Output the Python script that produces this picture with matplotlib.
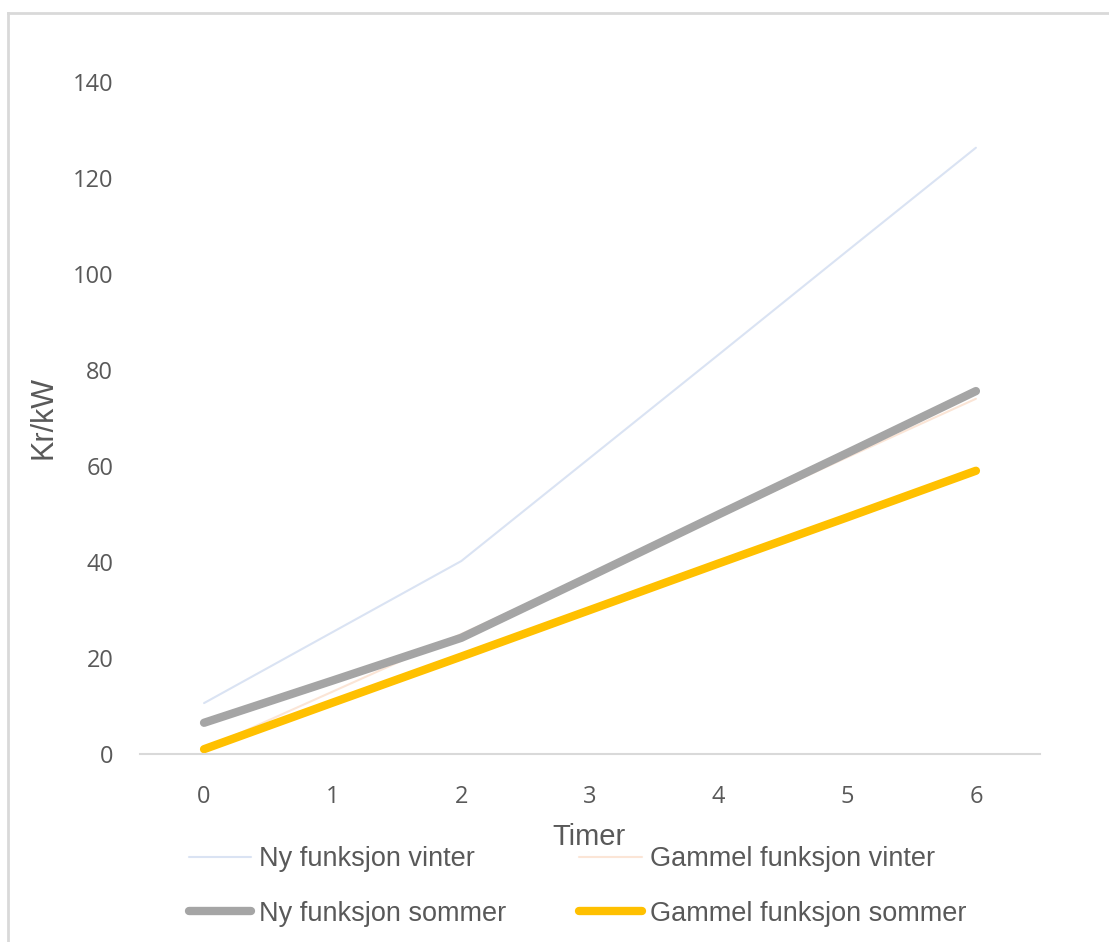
import matplotlib.pyplot as plt
from matplotlib.lines import Line2D

timer = [0, 1, 2, 3, 4, 5, 6]
ny_vinter = [10.6, 25.4, 40.2, 61.7, 83.2, 104.8, 126.3]
gammel_vinter = [1.0, 13.0, 25.0, 37.3, 49.5, 61.8, 74.0]
ny_sommer = [6.5, 15.3, 24.2, 37.0, 49.9, 62.7, 75.6]
gammel_sommer = [1.0, 10.7, 20.3, 30.0, 39.7, 49.3, 59.0]

y_ticks = [0, 20, 40, 60, 80, 100, 120, 140]

text_color = "#595959"
narrow = ["Liberation Sans Narrow", "Liberation Sans", "DejaVu Sans"]
plt.rcParams["font.family"] = ["Open Sans", "DejaVu Sans"]

fig = plt.figure(figsize=(11.09, 9.42), dpi=100)
ax = fig.add_axes([0.126, 0.1996, 0.812, 0.7134])

series = [
    ("Ny funksjon vinter", ny_vinter, "#dae3f3", 1.5),
    ("Gammel funksjon vinter", gammel_vinter, "#fbe5d6", 1.5),
    ("Ny funksjon sommer", ny_sommer, "#a5a5a5", 6),
    ("Gammel funksjon sommer", gammel_sommer, "#ffc000", 6),
]
for label, vals, color, lw in series:
    ax.plot(timer, vals, color=color, lw=lw, solid_capstyle="round",
            solid_joinstyle="round", label=label)

ax.set_xlim(-0.5, 6.5)
ax.set_ylim(0, 140)
ax.set_xticks(timer)
ax.set_yticks(y_ticks)
ax.tick_params(length=0, labelsize=17, colors=text_color)
ax.tick_params(axis="y", pad=19)
ax.tick_params(axis="x", pad=22)
for side in ["top", "right", "left"]:
    ax.spines[side].set_visible(False)
ax.spines["bottom"].set_color("#d9d9d9")
ax.spines["bottom"].set_linewidth(1.5)

ax.set_ylabel("Kr/kW", fontsize=22, color=text_color, labelpad=10,
              family=narrow)
fig.text(0.531, 0.111, "Timer", fontsize=21, color=text_color,
         ha="center", va="center", family=narrow)

# matplotlib fills legend columns first, so reorder to get rows like the original
order = [0, 2, 1, 3]
handles = [Line2D([], [], color=series[i][2], lw=series[i][3],
                  solid_capstyle="round") for i in order]
labels = [series[i][0] for i in order]
fig.legend(handles, labels, loc="upper left", bbox_to_anchor=(0.170, 0.1015),
           ncol=2, frameon=False, borderpad=0, borderaxespad=0,
           prop={"family": narrow, "size": 19.5}, labelcolor=text_color,
           handlelength=2.3, handletextpad=0.3, columnspacing=2.7,
           labelspacing=1.05)

# outer chart frame (left and top edges visible in the crop)
fig.add_artist(Line2D([0.0075, 0.0075], [0, 0.986], transform=fig.transFigure,
                      color="#d9d9d9", lw=2))
fig.add_artist(Line2D([0.0075, 1], [0.986, 0.986], transform=fig.transFigure,
                      color="#d9d9d9", lw=2))

fig.savefig("out.png", dpi=100, facecolor="white")
